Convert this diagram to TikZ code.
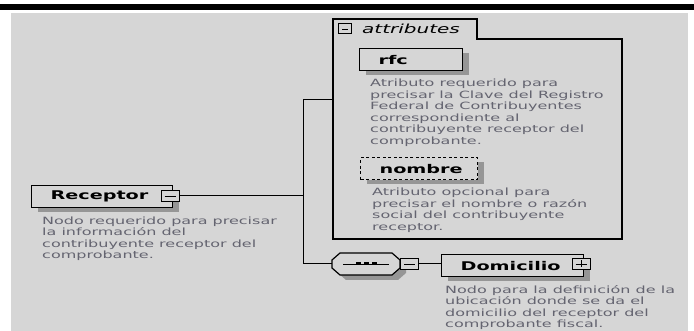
\documentclass[tikz,border=0pt]{standalone}
\usepackage{fontspec}
\setmainfont{DejaVu Sans}
\newfontfamily\wideface[FakeStretch=1.6]{DejaVu Sans}
\usetikzlibrary{positioning}
\definecolor{bggray}{RGB}{214,214,214}
\definecolor{shadowgray}{RGB}{150,150,150}
\definecolor{descgray}{RGB}{100,100,112}
\tikzset{
	elem/.style={draw=black,line width=1.2pt,fill=bggray,anchor=north west,inner xsep=19pt,inner ysep=0pt,
		minimum height=22pt,align=left,font=\wideface\fontsize{12pt}{14pt}\selectfont\bfseries},
	desc/.style={anchor=north west,inner sep=0pt,align=left,text=descgray,
		font=\wideface\fontsize{10pt}{11.5pt}\selectfont},
	sym/.style={draw=black,line width=1pt,fill=bggray,minimum width=18pt,minimum height=11pt,inner sep=0pt},
	minus/.style={sym,path picture={\draw[line width=0.9pt] ([xshift=3.5pt]path picture bounding box.west) -- ([xshift=-3.5pt]path picture bounding box.east);}},
	plus/.style={sym,path picture={\draw[line width=0.9pt] ([xshift=3.5pt]path picture bounding box.west) -- ([xshift=-3.5pt]path picture bounding box.east);
		\draw[line width=0.9pt] ([yshift=-2pt]path picture bounding box.north) -- ([yshift=2pt]path picture bounding box.south);}},
	wire/.style={line width=1pt},
	frame/.style={line width=1.2pt},
	shade box/.style={fill=shadowgray}
}
\begin{document}
\begin{tikzpicture}[x=1pt,y=-1pt]
	\useasboundingbox (0,0) rectangle (694,331);
	\fill[black] (0,4) rectangle (694,10.5);
	\fill[bggray] (11,13) rectangle (688,331);
	% shadows
	\fill[shade box] (38,190) rectangle (179,212);
	\fill[shade box] (366,53) rectangle (469,75);
	\fill[shade box] (367,162) rectangle (484,184);
	\fill[shade box] (448,259) rectangle (590,281);
	\fill[shade box,shift={(6,5)}] (340,253) -- (392,253) -- (400,260) -- (400,268) -- (392,275) -- (340,275) -- (332,268) -- (332,260) -- cycle;
	% attributes group
	\draw[frame] (333,239) -- (333,19) -- (477,19) -- (477,39) -- (622,39) -- (622,239) -- cycle;
	\coordinate (attrin) at (333,100);
	\node[minus,minimum width=13pt,minimum height=10pt] (attrsym) at (345,29) {};
	\node[anchor=west,inner sep=0pt,font=\wideface\fontsize{12.5pt}{14pt}\selectfont\itshape] (attrlabel) at (362,29) {attributes};
	\node[elem,text width=65pt] (rfc) at (359,48) {rfc};
	\node[desc] (rfcdesc) at (370,79) {Atributo requerido para\\precisar la Clave del Registro\\Federal de Contribuyentes\\correspondiente al\\contribuyente receptor del\\comprobante.};
	\node[elem,text width=79pt,dash pattern=on 3pt off 2.5pt] (nombre) at (360,157) {nombre};
	\node[desc] (nombredesc) at (372,188) {Atributo opcional para\\precisar el nombre o razón\\social del contribuyente\\receptor.};
	% root element
	\node[elem,text width=103pt] (receptor) at (31,185) {Receptor};
	\node[desc] (recdesc) at (42,216.5) {Nodo requerido para precisar\\la información del\\contribuyente receptor del\\comprobante.};
	% sequence
	\coordinate (seqin) at (332,264);
	\coordinate (seqmid) at (366,264);
	\draw[frame,fill=bggray] (340,253) -- (392,253) -- (400,260) -- (400,268) -- (392,275) -- (340,275) -- (332,268) -- (332,260) -- cycle;
	\draw[line width=0.9pt] ([xshift=-23pt]seqmid) -- ([xshift=23pt]seqmid);
	\foreach \dx in {-8,0,8}
		\fill ([xshift=\dx pt-2.5pt,yshift=1.5pt]seqmid) rectangle ++(5pt,-3pt);
	\node[minus] (seqsym) at (409.5,264) {};
	\node[elem,text width=104pt] (domicilio) at (441,254) {Domicilio};
	\node[desc] (domdesc) at (445,285) {Nodo para la definición de la\\ubicación donde se da el\\domicilio del receptor del\\comprobante fiscal.};
	% connectors
	\coordinate (fork) at (303,196);
	\node[minus] (recsym) at (170,196) {};
	\node[plus] (domsym) at (581,264) {};
	\draw[wire] (recsym.east) -- (fork);
	\draw[wire] (fork) |- (attrin);
	\draw[wire] (fork) |- (seqin);
	\draw[wire] (seqsym.east) -- (seqsym.east -| domicilio.west);
\end{tikzpicture}
\end{document}
